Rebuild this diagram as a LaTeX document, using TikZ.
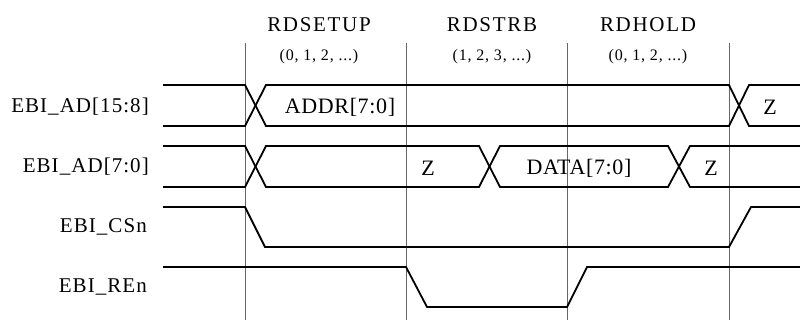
\documentclass[tikz,border=0pt]{standalone}
\usepackage{fontspec}
\setmainfont{Liberation Serif}
\newfontfamily\phasefont[LetterSpace=8]{Liberation Serif}
\newfontfamily\namefont[LetterSpace=5]{Liberation Serif}
\newfontfamily\valfont[LetterSpace=3]{Liberation Serif}
\usetikzlibrary{positioning}

\begin{document}
\begin{tikzpicture}[x=1pt, y=-1pt,
    sig/.style={line width=1.8pt, line join=miter},
    vline/.style={black!60, line width=0.8pt},
    phase/.style={font=\phasefont\fontsize{21}{24}\selectfont, inner sep=0pt},
    cycles/.style={font=\namefont\fontsize{16}{18}\selectfont, inner sep=0pt},
    signame/.style={font=\namefont\fontsize{21}{24}\selectfont, anchor=east, inner sep=0pt},
    busval/.style={font=\valfont\fontsize{22}{24}\selectfont, inner sep=0pt}]
    \useasboundingbox (0,0) rectangle (800,320);
    % phase boundaries
    \foreach \x in {245,406,567,729} {
        \draw[vline] (\x,43) -- (\x,320);
    }
    % phase names
    \node[phase] (setup) at (319,25) {RDSETUP};
    \node[phase] (strb) at (492,25) {RDSTRB};
    \node[phase] (hold) at (648,25) {RDHOLD};
    \node[cycles, below=32pt of setup.center, anchor=center] (setupn) {(0, 1, 2, ...)};
    \node[cycles, below=32pt of strb.center, anchor=center] (strbn) {(1, 2, 3, ...)};
    \node[cycles, below=32pt of hold.center, anchor=center] (holdn) {(0, 1, 2, ...)};
    % signal names
    \node[signame] (adhi) at (149,107) {EBI\_AD[15:8]};
    \node[signame] (adlo) at (149,167) {EBI\_AD[7:0]};
    \node[signame] (csn) at (147,227) {EBI\_CSn};
    \node[signame] (ren) at (147,287) {EBI\_REn};
    % EBI_AD[15:8]
    \draw[sig] (163,85) -- (245,85) -- (266,126) -- (729,126) -- (749,85) -- (800,85);
    \draw[sig] (163,126) -- (245,126) -- (266,85) -- (729,85) -- (749,126) -- (800,126);
    \node[busval] (addr) at (340,107) {ADDR[7:0]};
    \node[busval] (adhiz) at (770,107) {Z};
    % EBI_AD[7:0]
    \draw[sig] (163,146) -- (245,146) -- (266,187) -- (479,187) -- (500,146) -- (668,146) -- (690,187) -- (800,187);
    \draw[sig] (163,187) -- (245,187) -- (266,146) -- (479,146) -- (500,187) -- (668,187) -- (690,146) -- (800,146);
    \node[busval] (adloz) at (428,168) {Z};
    \node[busval] (data) at (579,168) {DATA[7:0]};
    \node[busval] (adloz2) at (711,168) {Z};
    % EBI_CSn
    \draw[sig] (163,207) -- (245,207) -- (265,247) -- (729,247) -- (751,207) -- (800,207);
    % EBI_REn
    \draw[sig] (163,267) -- (406,267) -- (427,307) -- (567,307) -- (587,267) -- (800,267);
\end{tikzpicture}
\end{document}
